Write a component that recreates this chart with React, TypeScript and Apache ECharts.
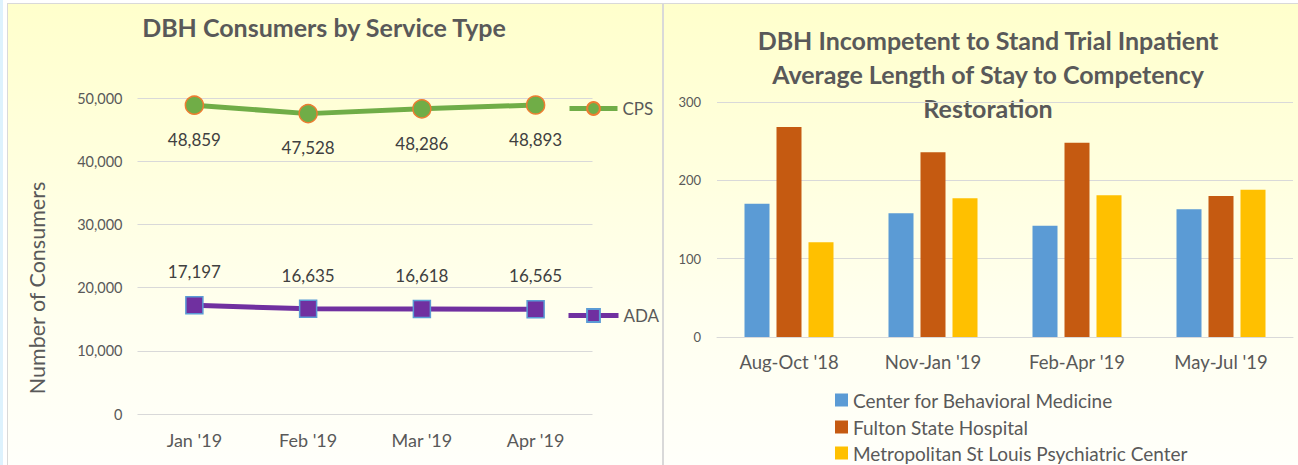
import React, { useEffect, useRef } from "react";
import * as echarts from "echarts";

const months = ["Jan '19", "Feb '19", "Mar '19", "Apr '19"];
const cpsValues = [48859, 47528, 48286, 48893];
const adaValues = [17197, 16635, 16618, 16565];

const quarters = ["Aug-Oct '18", "Nov-Jan '19", "Feb-Apr '19", "May-Jul '19"];
const cbmValues = [170, 158, 142, 163];
const fultonValues = [268, 236, 248, 180];
const mslpcValues = [121, 177, 181, 188];

const barNames = [
  "Center for Behavioral Medicine",
  "Fulton State Hospital",
  "Metropolitan St Louis Psychiatric Center",
];

const FONT = "Lato, 'Open Sans', sans-serif";
const TXT = "#595959";
const DARK = "#404040";

export default function App() {
  const ref = useRef<HTMLDivElement>(null);

  useEffect(() => {
    if (!ref.current) return;
    const chart = echarts.init(ref.current, undefined, { renderer: "svg" });
    const fmt = (p: any) => Number(p.value).toLocaleString("en-US");
    const barLegendTops = [390.5, 417.5, 443.5];
    chart.setOption({
      animation: false,
      backgroundColor: "transparent",
      textStyle: { fontFamily: FONT },
      graphic: [
        {
          type: "text",
          x: 324,
          y: 27,
          style: {
            text: "DBH Consumers by Service Type",
            fill: TXT,
            font: `bold 25px ${FONT}`,
            textAlign: "center",
            textVerticalAlign: "middle",
          },
        },
        {
          type: "text",
          x: 37,
          y: 288,
          rotation: Math.PI / 2,
          style: {
            text: "Number of Consumers",
            fill: TXT,
            font: `21.5px ${FONT}`,
            textAlign: "center",
            textVerticalAlign: "middle",
          },
        },
        {
          type: "text",
          x: 988,
          y: 23,
          style: {
            text:
              "DBH Incompetent to Stand Trial Inpatient\nAverage Length of Stay to Competency\nRestoration",
            fill: TXT,
            font: `bold 25px ${FONT}`,
            lineHeight: 34,
            textAlign: "center",
            textVerticalAlign: "top",
          },
        },
      ],
      legend: [
        {
          data: ["CPS"],
          left: 567,
          top: 100,
          padding: 0,
          itemWidth: 48,
          itemHeight: 16,
          lineStyle: { width: 5 },
          textStyle: { color: TXT, fontSize: 17, fontFamily: FONT },
        },
        {
          data: ["ADA"],
          left: 566,
          top: 307,
          padding: 0,
          itemWidth: 50,
          itemHeight: 16,
          lineStyle: { width: 5 },
          textStyle: { color: TXT, fontSize: 17, fontFamily: FONT },
        },
        ...barNames.map((n, i) => ({
          data: [n],
          left: 835,
          top: barLegendTops[i],
          padding: 0,
          itemWidth: 13,
          itemHeight: 13,
          icon: "rect",
          textStyle: { color: TXT, fontSize: 19, lineHeight: 19, fontFamily: FONT },
        })),
      ],
      grid: [
        { left: 137.5, top: 98, width: 455, height: 316 },
        { left: 717, top: 102, width: 576, height: 235 },
      ],
      xAxis: [
        {
          type: "category",
          gridIndex: 0,
          data: months,
          boundaryGap: true,
          axisLine: { show: false },
          axisTick: { show: false },
          axisLabel: { color: TXT, fontSize: 18, margin: 17, fontFamily: FONT },
        },
        {
          type: "category",
          gridIndex: 1,
          data: quarters,
          boundaryGap: true,
          axisLine: { show: true, lineStyle: { color: "#d9d9d9" } },
          axisTick: { show: false },
          axisLabel: { color: TXT, fontSize: 18.5, margin: 15, fontFamily: FONT },
        },
      ],
      yAxis: [
        {
          type: "value",
          gridIndex: 0,
          min: 0,
          max: 50000,
          interval: 10000,
          axisLine: { show: false },
          axisTick: { show: false },
          splitLine: { lineStyle: { color: "#d9d9d9", width: 1 } },
          axisLabel: {
            color: TXT,
            fontSize: 14.5,
            margin: 15,
            fontFamily: FONT,
            formatter: (v: number) => v.toLocaleString("en-US"),
          },
        },
        {
          type: "value",
          gridIndex: 1,
          min: 0,
          max: 300,
          interval: 100,
          axisLine: { show: false },
          axisTick: { show: false },
          splitLine: { lineStyle: { color: "#d9d9d9", width: 1 } },
          axisLabel: { color: TXT, fontSize: 13, margin: 16, fontFamily: FONT },
        },
      ],
      series: [
        {
          name: "CPS",
          type: "line",
          xAxisIndex: 0,
          yAxisIndex: 0,
          data: cpsValues,
          symbol: "circle",
          symbolSize: 18,
          lineStyle: { color: "#70ad47", width: 5 },
          itemStyle: { color: "#70ad47", borderColor: "#ed7d31", borderWidth: 1.5 },
          label: {
            show: true,
            position: "bottom",
            distance: 16,
            color: DARK,
            fontSize: 17,
            fontFamily: FONT,
            formatter: fmt,
          },
        },
        {
          name: "ADA",
          type: "line",
          xAxisIndex: 0,
          yAxisIndex: 0,
          data: adaValues,
          symbol: "rect",
          symbolSize: 17,
          lineStyle: { color: "#7030a0", width: 5 },
          itemStyle: { color: "#7030a0", borderColor: "#5b9bd5", borderWidth: 1.5 },
          label: {
            show: true,
            position: "top",
            distance: 16,
            color: DARK,
            fontSize: 17,
            fontFamily: FONT,
            formatter: fmt,
          },
        },
        {
          name: barNames[0],
          type: "bar",
          xAxisIndex: 1,
          yAxisIndex: 1,
          data: cbmValues,
          barWidth: 25,
          barGap: "28%",
          itemStyle: { color: "#5b9bd5" },
        },
        {
          name: barNames[1],
          type: "bar",
          xAxisIndex: 1,
          yAxisIndex: 1,
          data: fultonValues,
          barWidth: 25,
          barGap: "28%",
          itemStyle: { color: "#c55a11" },
        },
        {
          name: barNames[2],
          type: "bar",
          xAxisIndex: 1,
          yAxisIndex: 1,
          data: mslpcValues,
          barWidth: 25,
          barGap: "28%",
          itemStyle: { color: "#ffc000" },
        },
      ],
    });
    return () => chart.dispose();
  }, []);

  const panelBg = "linear-gradient(to bottom, #ffffcc 0%, #fffff0 70%, #fffffa 100%)";

  return (
    <div
      style={{
        position: "absolute",
        left: 0,
        top: 0,
        width: 1298,
        height: 465,
        background: "#ffffff",
        overflow: "hidden",
      }}
    >
      <div style={{ position: "absolute", left: 0, top: 0, width: 3, height: 465, background: "#ddf2fd" }} />
      <div
        style={{
          position: "absolute",
          left: 7,
          top: 3,
          width: 655,
          height: 462,
          boxSizing: "border-box",
          borderLeft: "1.5px solid #d9d9d9",
          borderTop: "1.5px solid #d9d9d9",
          background: panelBg,
        }}
      />
      <div
        style={{
          position: "absolute",
          left: 662,
          top: 3,
          width: 636,
          height: 462,
          boxSizing: "border-box",
          borderLeft: "2px solid #d9d9d9",
          borderTop: "1.5px solid #d9d9d9",
          background: panelBg,
        }}
      />
      <div ref={ref} style={{ position: "absolute", left: 0, top: 0, width: 1298, height: 465 }} />
    </div>
  );
}
